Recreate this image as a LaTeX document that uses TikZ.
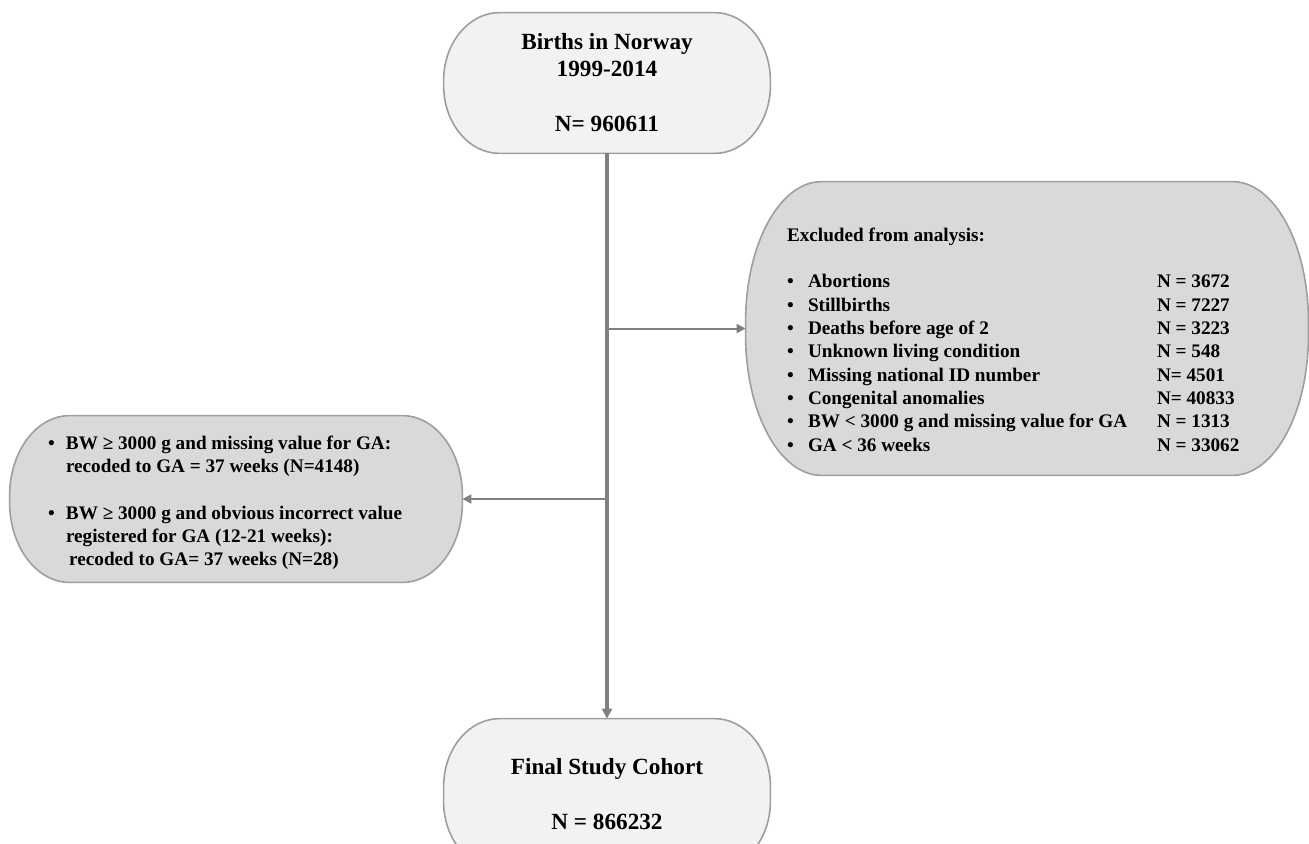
\documentclass[tikz,border=0pt]{standalone}
\usepackage{fontspec}
\setmainfont{Liberation Serif}
\usetikzlibrary{positioning,calc,arrows.meta}
\pgfdeclarelayer{background}
\pgfsetlayers{background,main}

\newcommand{\ovaloutline}[4]{%
  \path[#1] ($(#2.north west)+(#3,0pt)$) -- ($(#2.north east)+(-#3,0pt)$)
    arc[start angle=90, end angle=0, x radius=#3, y radius=#4]
    -- ($(#2.south east)+(0pt,#4)$)
    arc[start angle=0, end angle=-90, x radius=#3, y radius=#4]
    -- ($(#2.south west)+(#3,0pt)$)
    arc[start angle=270, end angle=180, x radius=#3, y radius=#4]
    -- ($(#2.north west)+(0pt,-#4)$)
    arc[start angle=180, end angle=90, x radius=#3, y radius=#4] -- cycle;}

\begin{document}
\begin{tikzpicture}[x=0.5pt,y=-0.5pt]
    \tikzset{cohortbox/.style={
        minimum width=163pt, minimum height=70pt, align=center, inner sep=0pt,
        font=\fontsize{11.6}{13.5}\selectfont\bfseries
      },
      excludedbox/.style={cohortbox, minimum width=281pt, minimum height=146.5pt},
      recodedbox/.style={cohortbox, minimum width=226pt, minimum height=83pt},
      lightoval/.style={draw=black!38, line width=0.8pt, fill=black!5},
      darkoval/.style={lightoval, fill=black!15},
      listtext/.style={inner sep=0pt, align=left,
        font=\fontsize{9.6}{11.65}\selectfont\bfseries},
      trunk/.style={draw=black!50, line width=1.6pt,
        -{Triangle[length=5pt,width=5pt]}},
      branch/.style={draw=black!50, line width=1pt,
        -{Triangle[length=4.5pt,width=4.5pt]}}
    }

    \useasboundingbox (0,0) rectangle (1309,843);
    \clip (0,0) rectangle (1309,843);

    \node[cohortbox] (births) at (607,83) {Births in Norway\\1999-2014\\[14pt]N= 960611};
    \node[cohortbox, minimum height=75pt] (final) at (607,794) {Final Study Cohort\\[14pt]N = 866232};
    \node[excludedbox] (excl) at (1027,328.5) {};
    \node[recodedbox] (recode) at (236,499) {};

    \begin{pgfonlayer}{background}
      \ovaloutline{lightoval}{births}{28pt}{34pt}
      \ovaloutline{lightoval}{final}{28pt}{34pt}
      \ovaloutline{darkoval}{excl}{38pt}{70pt}
      \ovaloutline{darkoval}{recode}{30pt}{40pt}
    \end{pgfonlayer}

    \node[listtext, anchor=west] (excltext) at ($(excl.west)+(41,13)$) {%
      \begin{tabular}{@{}p{10.5pt}@{}p{174.5pt}@{}l@{}}
        \multicolumn{3}{@{}l@{}}{Excluded from analysis:}\\
        &&\\
        \textbullet & Abortions & N = 3672\\
        \textbullet & Stillbirths & N = 7227\\
        \textbullet & Deaths before age of 2 & N = 3223\\
        \textbullet & Unknown living condition & N = 548\\
        \textbullet & Missing national ID number & N= 4501\\
        \textbullet & Congenital anomalies & N= 40833\\
        \textbullet & BW < 3000 g and missing value for GA & N = 1313\\
        \textbullet & GA < 36 weeks & N = 33062
      \end{tabular}};

    \node[listtext, anchor=west] (recodetext) at ($(recode.west)+(38,4)$) {%
      \begin{tabular}{@{}p{9pt}@{}l@{}}
        \textbullet & BW ≥ 3000 g and missing value for GA:\\
        & recoded to GA = 37 weeks (N=4148)\\
        &\\
        \textbullet & BW ≥ 3000 g and obvious incorrect value\\
        & registered for GA (12-21 weeks):\\
        & \,recoded to GA= 37 weeks (N=28)
      \end{tabular}};

    \draw[trunk] (births.south) -- (final.north);
    \draw[branch] (births.south |- excl.west) -- (excl.west);
    \draw[branch] (births.south |- recode.east) -- (recode.east);

  \end{tikzpicture}
\end{document}
